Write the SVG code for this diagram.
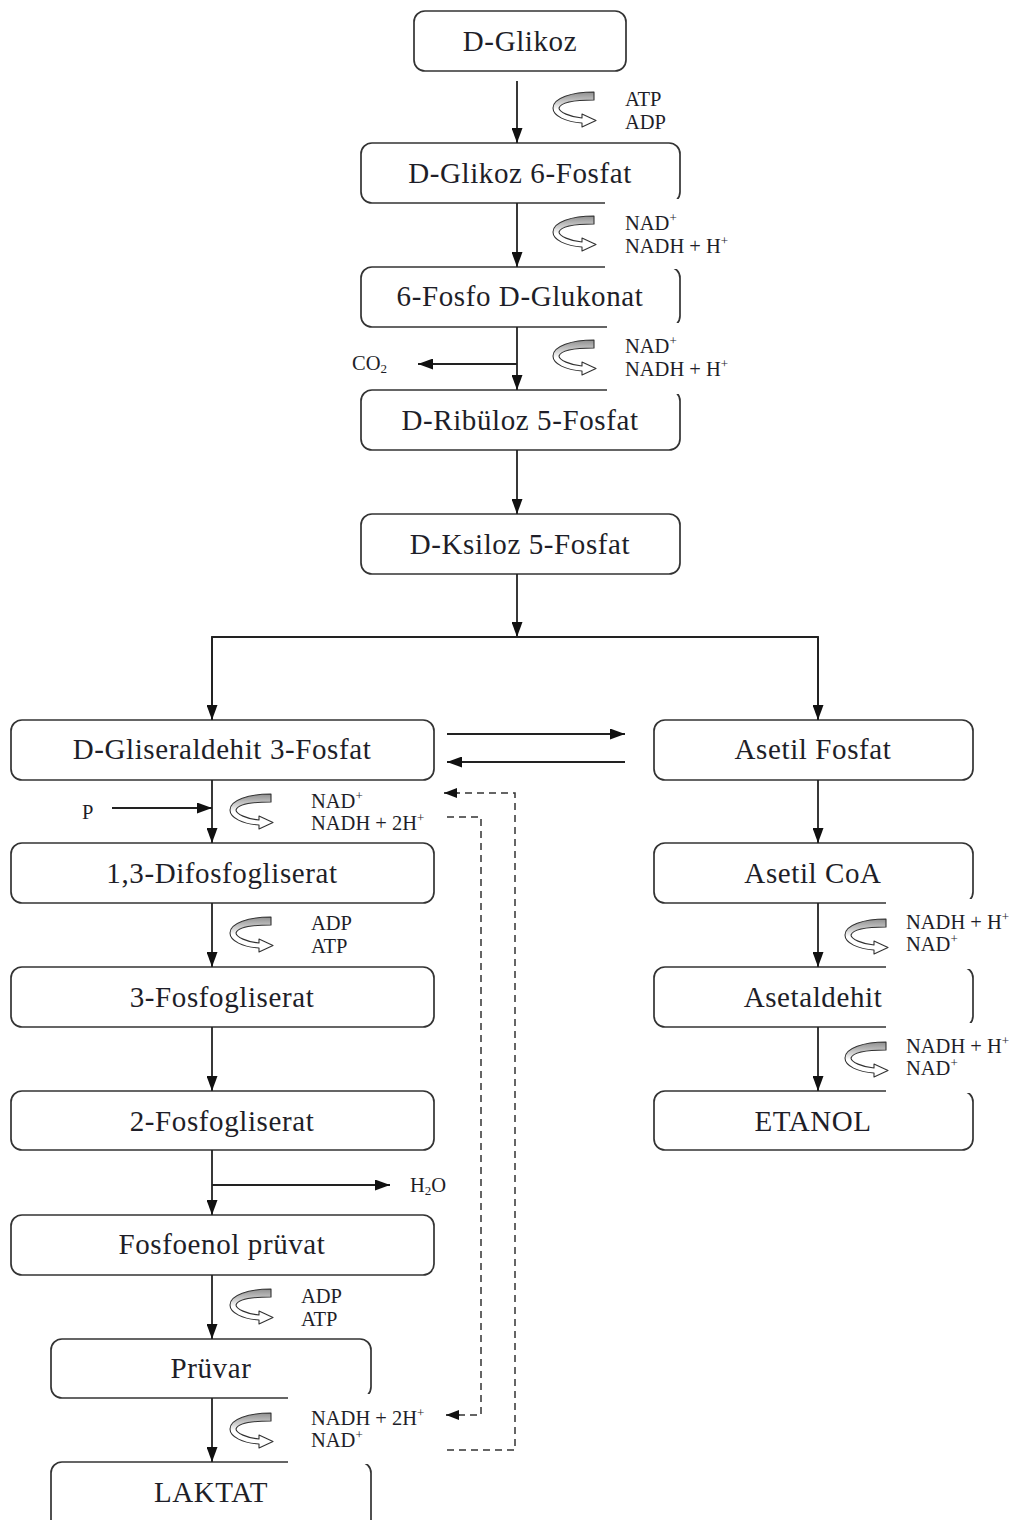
<svg xmlns="http://www.w3.org/2000/svg" xmlns:xlink="http://www.w3.org/1999/xlink" width="1015" height="1520" viewBox="0 0 1015 1520">
<style>
.box{fill:#fff;stroke:#333;stroke-width:1.7}
.bt{font-family:"Liberation Serif","Times New Roman",serif;font-size:29px;fill:#1e1e28;text-anchor:middle;letter-spacing:0.6px}
.st{font-family:"Liberation Serif","Times New Roman",serif;font-size:20.5px;fill:#1e1e28}
.ln{fill:none;stroke:#222;stroke-width:1.8}
.dash{fill:none;stroke:#333;stroke-width:1.5;stroke-dasharray:7,5}
.cover{fill:#fff;stroke:none}
</style>
<defs>
<marker id="ah" viewBox="0 0 15 11" refX="15" refY="5.5" markerWidth="15" markerHeight="11" orient="auto" markerUnits="userSpaceOnUse"><path d="M0,0 L15,5.5 L0,11 Z" fill="#111"/></marker>
<marker id="ahs" viewBox="0 0 13 10" refX="13" refY="5" markerWidth="13" markerHeight="10" orient="auto" markerUnits="userSpaceOnUse"><path d="M0,0 L13,5 L0,10 Z" fill="#111"/></marker>
<linearGradient id="cg" x1="0" y1="0" x2="0" y2="1"><stop offset="0" stop-color="#8f8f8f"/><stop offset="0.35" stop-color="#d8d8d8"/><stop offset="0.5" stop-color="#fff"/></linearGradient>
<g id="cyc"><path d="M42,2 L42,10 C24,10 9,12 7,18 C7,22 18,27 30,28 L30,24 L44,30.5 L30,37 L30,33 C14,32 1,26 1,18 C1,8 20,2 42,2 Z" fill="url(#cg)" stroke="#333" stroke-width="1.1" stroke-linejoin="round"/></g>
</defs>
<rect width="1015" height="1520" fill="#fff"/>

<g id="nodes">
<g id="n-glikoz"><rect class="box" x="414" y="11" width="212" height="60" rx="11"/><text class="bt" x="520" y="51">D-Glikoz</text></g>
<g id="n-g6f"><rect class="box" x="361" y="143" width="319" height="60" rx="11"/><text class="bt" x="520" y="183">D-Glikoz 6-Fosfat</text></g>
<g id="n-6fg"><rect class="box" x="361" y="267" width="319" height="60" rx="11"/><text class="bt" x="520" y="306">6-Fosfo D-Glukonat</text></g>
<g id="n-r5f"><rect class="box" x="361" y="390" width="319" height="60" rx="11"/><text class="bt" x="520" y="430">D-Ribüloz 5-Fosfat</text></g>
<g id="n-k5f"><rect class="box" x="361" y="514" width="319" height="60" rx="11"/><text class="bt" x="520" y="554">D-Ksiloz 5-Fosfat</text></g>
<g id="n-g3f"><rect class="box" x="11" y="720" width="423" height="60" rx="11"/><text class="bt" x="222" y="759">D-Gliseraldehit 3-Fosfat</text></g>
<g id="n-af"><rect class="box" x="654" y="720" width="319" height="60" rx="11"/><text class="bt" x="813" y="759">Asetil Fosfat</text></g>
<g id="n-13d"><rect class="box" x="11" y="843" width="423" height="60" rx="11"/><text class="bt" x="222" y="883">1,3-Difosfogliserat</text></g>
<g id="n-3f"><rect class="box" x="11" y="967" width="423" height="60" rx="11"/><text class="bt" x="222" y="1007">3-Fosfogliserat</text></g>
<g id="n-2f"><rect class="box" x="11" y="1091" width="423" height="59" rx="11"/><text class="bt" x="222" y="1131">2-Fosfogliserat</text></g>
<g id="n-fep"><rect class="box" x="11" y="1215" width="423" height="60" rx="11"/><text class="bt" x="222" y="1254">Fosfoenol prüvat</text></g>
<g id="n-pru"><rect class="box" x="51" y="1339" width="320" height="59" rx="11"/><text class="bt" x="211" y="1378">Prüvar</text></g>
<g id="n-lak"><rect class="box" x="51" y="1462" width="320" height="70" rx="11"/><text class="bt" x="211" y="1502">LAKTAT</text></g>
<g id="n-acoa"><rect class="box" x="654" y="843" width="319" height="60" rx="11"/><text class="bt" x="813" y="883">Asetil CoA</text></g>
<g id="n-asal"><rect class="box" x="654" y="967" width="319" height="60" rx="11"/><text class="bt" x="813" y="1007">Asetaldehit</text></g>
<g id="n-et"><rect class="box" x="654" y="1091" width="319" height="59" rx="11"/><text class="bt" x="813" y="1131">ETANOL</text></g>
</g>

<g id="label-covers">
<rect class="cover" x="605" y="199" width="140" height="70"/>
<rect class="cover" x="607" y="323" width="140" height="71"/>
<rect class="cover" x="886" y="899" width="129" height="70"/>
<rect class="cover" x="886" y="1023" width="129" height="70"/>
<rect class="cover" x="288" y="1394" width="152" height="70"/>
</g>

<g id="connectors">
<line class="ln" x1="517" y1="81" x2="517" y2="143" marker-end="url(#ah)"/>
<line class="ln" x1="517" y1="203" x2="517" y2="267" marker-end="url(#ah)"/>
<line class="ln" x1="517" y1="327" x2="517" y2="390" marker-end="url(#ah)"/>
<line class="ln" x1="517" y1="364" x2="418" y2="364" marker-end="url(#ah)"/>
<line class="ln" x1="517" y1="450" x2="517" y2="514" marker-end="url(#ah)"/>
<line class="ln" x1="517" y1="574" x2="517" y2="637" marker-end="url(#ah)"/>
<polyline class="ln" points="212,720 212,637 818,637 818,720"/>
<line class="ln" x1="212" y1="637" x2="212" y2="720" marker-end="url(#ah)"/>
<line class="ln" x1="818" y1="637" x2="818" y2="720" marker-end="url(#ah)"/>
<line class="ln" x1="447" y1="734" x2="625" y2="734" marker-end="url(#ah)"/>
<line class="ln" x1="625" y1="762" x2="447" y2="762" marker-end="url(#ah)"/>
<polyline class="dash" points="447,1450 515,1450 515,793 458,793"/>
<line x1="458" y1="793" x2="444" y2="793" stroke="#111" stroke-width="1.5" marker-end="url(#ahs)"/>
<polyline class="dash" points="447,817 481,817 481,1415 460,1415"/>
<line x1="460" y1="1415" x2="446" y2="1415" stroke="#111" stroke-width="1.5" marker-end="url(#ahs)"/>
<line class="ln" x1="212" y1="780" x2="212" y2="843" marker-end="url(#ah)"/>
<line class="ln" x1="112" y1="808" x2="212" y2="808" marker-end="url(#ah)"/>
<line class="ln" x1="212" y1="903" x2="212" y2="967" marker-end="url(#ah)"/>
<line class="ln" x1="212" y1="1027" x2="212" y2="1091" marker-end="url(#ah)"/>
<line class="ln" x1="212" y1="1150" x2="212" y2="1215" marker-end="url(#ah)"/>
<line class="ln" x1="212" y1="1185" x2="390" y2="1185" marker-end="url(#ah)"/>
<line class="ln" x1="212" y1="1275" x2="212" y2="1339" marker-end="url(#ah)"/>
<line class="ln" x1="212" y1="1398" x2="212" y2="1462" marker-end="url(#ah)"/>
<line class="ln" x1="818" y1="780" x2="818" y2="843" marker-end="url(#ah)"/>
<line class="ln" x1="818" y1="903" x2="818" y2="967" marker-end="url(#ah)"/>
<line class="ln" x1="818" y1="1027" x2="818" y2="1091" marker-end="url(#ah)"/>
</g>

<g id="cofactor-icons">
<use xlink:href="#cyc" href="#cyc" x="552" y="90"/>
<use xlink:href="#cyc" href="#cyc" x="552" y="214"/>
<use xlink:href="#cyc" href="#cyc" x="552" y="338"/>
<use xlink:href="#cyc" href="#cyc" x="229" y="792"/>
<use xlink:href="#cyc" href="#cyc" x="229" y="915"/>
<use xlink:href="#cyc" href="#cyc" x="229" y="1287"/>
<use xlink:href="#cyc" href="#cyc" x="229" y="1411"/>
<use xlink:href="#cyc" href="#cyc" x="844" y="917"/>
<use xlink:href="#cyc" href="#cyc" x="844" y="1040"/>
</g>

<g id="labels">
<text class="st" x="625" y="106">ATP</text>
<text class="st" x="625" y="129">ADP</text>
<text class="st" x="625" y="230">NAD<tspan font-size="13" dy="-8">+</tspan></text>
<text class="st" x="625" y="253">NADH + H<tspan font-size="13" dy="-8">+</tspan></text>
<text class="st" x="625" y="353">NAD<tspan font-size="13" dy="-8">+</tspan></text>
<text class="st" x="625" y="376">NADH + H<tspan font-size="13" dy="-8">+</tspan></text>
<text class="st" x="352" y="370" font-size="19">CO<tspan font-size="13" dy="3">2</tspan></text>
<text class="st" x="82" y="819" font-size="19">P</text>
<text class="st" x="311" y="808">NAD<tspan font-size="13" dy="-8">+</tspan></text>
<text class="st" x="311" y="830">NADH + 2H<tspan font-size="13" dy="-8">+</tspan></text>
<text class="st" x="311" y="930">ADP</text>
<text class="st" x="311" y="953">ATP</text>
<text class="st" x="410" y="1192" font-size="19">H<tspan font-size="13" dy="3">2</tspan><tspan dy="-3">O</tspan></text>
<text class="st" x="301" y="1303">ADP</text>
<text class="st" x="301" y="1326">ATP</text>
<text class="st" x="311" y="1425">NADH + 2H<tspan font-size="13" dy="-8">+</tspan></text>
<text class="st" x="311" y="1447">NAD<tspan font-size="13" dy="-8">+</tspan></text>
<text class="st" x="906" y="929">NADH + H<tspan font-size="13" dy="-8">+</tspan></text>
<text class="st" x="906" y="951">NAD<tspan font-size="13" dy="-8">+</tspan></text>
<text class="st" x="906" y="1053">NADH + H<tspan font-size="13" dy="-8">+</tspan></text>
<text class="st" x="906" y="1075">NAD<tspan font-size="13" dy="-8">+</tspan></text>
</g>
</svg>
